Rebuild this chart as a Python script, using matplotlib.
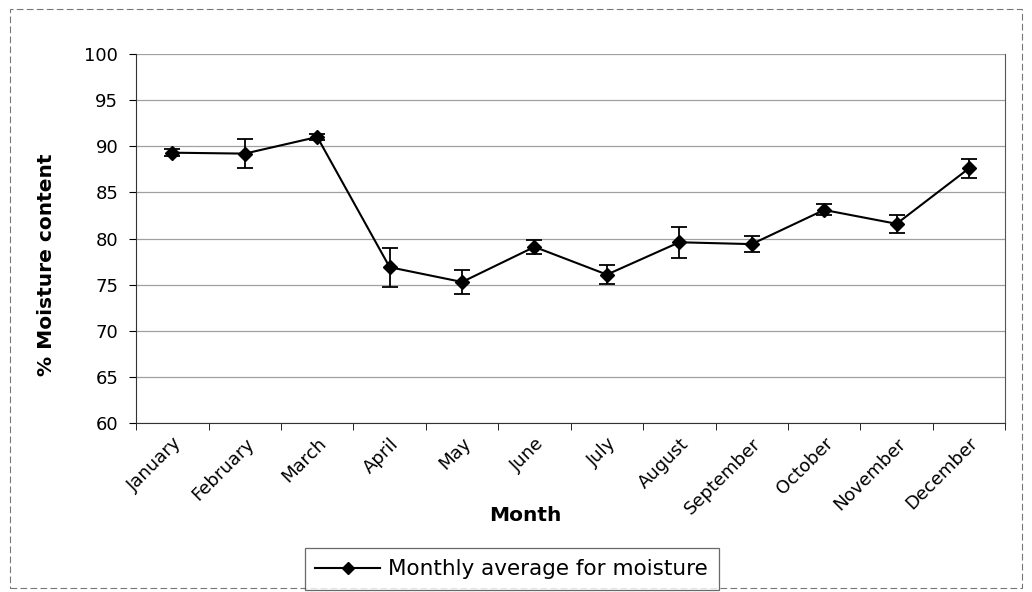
import numpy as np
import matplotlib
matplotlib.use('Agg')
import matplotlib.pyplot as plt
from matplotlib.patches import Rectangle
from matplotlib.lines import Line2D

# monthly moisture data
months = ['January', 'February', 'March', 'April', 'May', 'June', 'July',
          'August', 'September', 'October', 'November', 'December']
moisture = [89.3, 89.2, 91.0, 76.9, 75.3, 79.1, 76.1, 79.6, 79.4, 83.1, 81.6, 87.6]
err = [0.4, 1.6, 0.3, 2.1, 1.35, 0.75, 1.05, 1.65, 0.9, 0.6, 1.0, 1.0]
yticks = [60, 65, 70, 75, 80, 85, 90, 95, 100]

fig = plt.figure(figsize=(10.32, 5.92), dpi=100)
ax = fig.add_axes([0.132, 0.285, 0.842, 0.624])

x = np.arange(len(months))
ax.errorbar(x, moisture, yerr=err, color='black', lw=1.5, marker='D', ms=7,
            mfc='black', mec='black', ecolor='black', elinewidth=1.3,
            capsize=6, capthick=1.3, zorder=3)

ax.set_xlim(-0.5, 11.5)
ax.set_ylim(60, 100)
ax.set_yticks(yticks)
ax.yaxis.grid(True, color='#a0a0a0', lw=0.9)
ax.set_axisbelow(True)

# category labels at centres, tick marks between categories (Excel style)
ax.set_xticks(x)
ax.set_xticklabels(months, rotation=45, ha='right', rotation_mode='anchor', fontsize=13)
ax.tick_params(axis='x', which='major', length=0, pad=8)
ax.set_xticks(np.arange(-0.5, 12, 1), minor=True)
ax.tick_params(axis='x', which='minor', length=5, direction='out')
ax.tick_params(axis='y', labelsize=13, length=5, direction='out', pad=8)

ax.spines['top'].set_visible(False)
ax.spines['right'].set_color('#555555')
ax.spines['left'].set_color('#333333')
ax.spines['bottom'].set_color('#333333')

ax.set_ylabel('% Moisture content', fontsize=14.5, fontweight='bold')
ax.yaxis.set_label_coords(-0.092, 0.43)
ax.set_xlabel('Month', fontsize=14.5, fontweight='bold')
ax.xaxis.set_label_coords(0.448, -0.225)

handle = Line2D([], [], color='black', lw=1.5, marker='D', ms=6, mfc='black')
leg = fig.legend([handle], ['Monthly average for moisture'], loc='lower left',
                 bbox_to_anchor=(0.293, 0.0), fontsize=15.5, frameon=True,
                 fancybox=False, edgecolor='#444444', handlelength=3,
                 borderpad=0.5, handletextpad=0.4, borderaxespad=0.1)
leg.get_frame().set_linewidth(0.9)

# outer chart border from the scan
fig.patches.append(Rectangle((0.01, 0.006), 0.98, 0.978, transform=fig.transFigure,
                             fill=False, ec='#777777', lw=0.8, ls=(0, (6, 3))))

fig.savefig('out.png', dpi=100, facecolor='white')
